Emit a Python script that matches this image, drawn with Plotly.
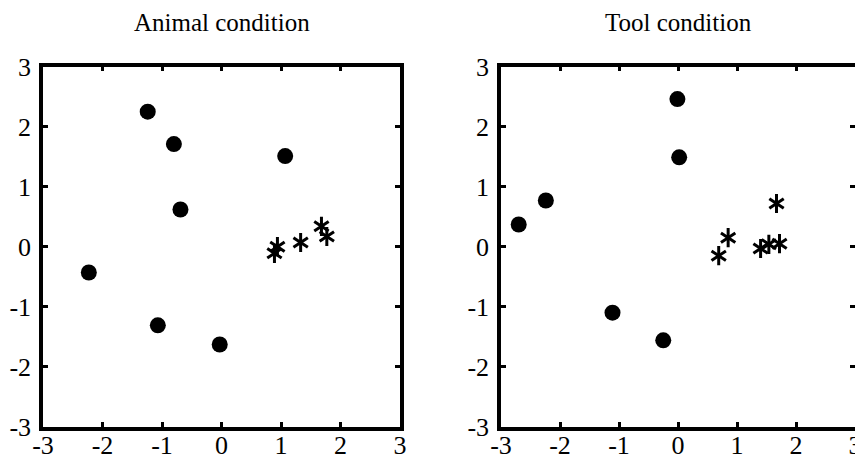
import plotly.graph_objects as go

# ---- data ----
panel_titles = ["Animal condition", "Tool condition"]
tick_values = [-3, -2, -1, 0, 1, 2, 3]
tick_labels = ["-3", "-2", "-1", "0", "1", "2", "3"]

animal_dot_x = [-1.24, -0.80, 1.07, -0.69, -2.23, -1.07, -0.03]
animal_dot_y = [2.25, 1.71, 1.51, 0.62, -0.43, -1.31, -1.63]
animal_star_x = [0.94, 0.89, 1.33, 1.68, 1.77]
animal_star_y = [0.00, -0.11, 0.07, 0.34, 0.17]

tool_dot_x = [-0.01, 0.02, -2.24, -2.70, -1.11, -0.25]
tool_dot_y = [2.46, 1.49, 0.77, 0.37, -1.10, -1.56]
tool_star_x = [1.67, 0.85, 0.69, 1.40, 1.54, 1.72]
tool_star_y = [0.72, 0.15, -0.15, -0.03, 0.04, 0.05]

# ---- figure ----
OFF = 8  # page body margin
W, H = 863 - OFF, 460 - OFF
fig = go.Figure()

FONT = "Liberation Serif, Times New Roman, serif"


def add_panel(xa, ya, dx, dy, sx, sy):
    fig.add_trace(go.Scatter(
        x=dx, y=dy, mode="markers", xaxis=xa, yaxis=ya,
        marker=dict(symbol="circle", size=16, color="black"),
        showlegend=False, hoverinfo="skip"))
    for sym in ["y-up-open", "y-down-open"]:
        fig.add_trace(go.Scatter(
            x=sx, y=sy, mode="markers", xaxis=xa, yaxis=ya,
            marker=dict(symbol=sym, size=12, color="black",
                        line=dict(color="black", width=3)),
            showlegend=False, hoverinfo="skip"))


add_panel("x", "y", animal_dot_x, animal_dot_y, animal_star_x, animal_star_y)
add_panel("x2", "y2", tool_dot_x, tool_dot_y, tool_star_x, tool_star_y)

axis_common = dict(
    range=[-3, 3], tickvals=tick_values, ticktext=tick_labels,
    showgrid=False, zeroline=False, showline=True, linecolor="black",
    linewidth=3.5, mirror="allticks", ticks="inside", ticklen=5,
    tickwidth=3, tickcolor="black", automargin=False,
    tickfont=dict(family=FONT, size=26, color="black"),
)


def px_x(v):
    return (v - OFF) / W


def px_y(v):
    return 1 - (v - OFF) / H


L1, R1, L2, R2, TOP, BOT = 43, 400, 501, 855, 66.7, 426.7
fig.update_layout(
    width=W, height=H,
    margin=dict(l=0, r=0, t=0, b=0, autoexpand=False),
    paper_bgcolor="white", plot_bgcolor="white",
    xaxis=dict(domain=[px_x(L1), px_x(R1)], anchor="y", ticklabelstandoff=-8, **axis_common),
    yaxis=dict(domain=[px_y(BOT), px_y(TOP)], anchor="x", ticklabelstandoff=3, **axis_common),
    xaxis2=dict(domain=[px_x(L2), px_x(R2)], anchor="y2", ticklabelstandoff=-8, **axis_common),
    yaxis2=dict(domain=[px_y(BOT), px_y(TOP)], anchor="x2", ticklabelstandoff=3, **axis_common),
)

for i, t in enumerate(panel_titles):
    xc = px_x((L1 + R1) / 2) if i == 0 else px_x((L2 + R2) / 2)
    fig.add_annotation(text=t, x=xc, y=px_y(22), xref="paper", yref="paper",
                       showarrow=False, xanchor="center", yanchor="middle",
                       font=dict(family=FONT, size=25, color="black"))

fig.write_html("out.html")
